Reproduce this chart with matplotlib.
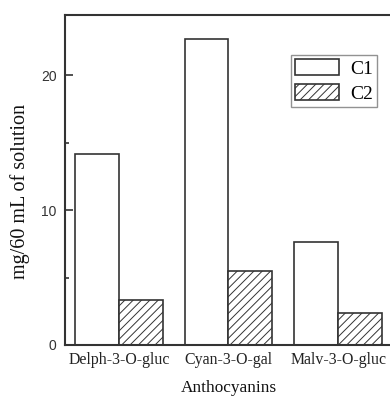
import matplotlib
matplotlib.use("Agg")
import matplotlib.pyplot as plt
import numpy as np

categories = ["Delph-3-O-gluc", "Cyan-3-O-gal", "Malv-3-O-gluc"]
c1 = [14.15, 22.7, 7.65]
c2 = [3.35, 5.45, 2.35]
series_labels = ["C1", "C2"]
yticks = [0, 10, 20]

plt.rcParams['hatch.linewidth'] = 0.7
plt.rcParams['hatch.color'] = '#444444'

fig = plt.figure(figsize=(3.9, 4.01), dpi=100)
ax = fig.add_axes([65/390, 56/401, 327/390, 330/401])

x = np.arange(len(categories))
w = 0.4
ec = '#333333'
ax.bar(x - w/2, c1, w, facecolor='white', edgecolor=ec, linewidth=1.2, label=series_labels[0])
ax.bar(x + w/2, c2, w, facecolor='white', edgecolor=ec, linewidth=1.2, hatch='////', label=series_labels[1])

ax.set_xlim(-0.49, 2.49)
ax.set_ylim(0, 24.45)
ax.set_yticks(yticks)
ax.set_yticks([5, 15], minor=True)
ax.set_xticks(x)
ax.set_xticklabels(categories, family='Liberation Serif', fontsize=11.4, color='#222222')
ax.tick_params(axis='y', direction='in', length=6, width=1.2, color=ec, labelsize=10, pad=6)
ax.tick_params(axis='y', which='minor', direction='in', length=3, width=1.2, color=ec)
ax.tick_params(axis='x', length=0, pad=5)
for lab in ax.get_yticklabels():
    lab.set_family('Liberation Sans')
    lab.set_color('#333333')
for s in ax.spines.values():
    s.set_linewidth(1.5)
    s.set_color(ec)
ax.spines['right'].set_visible(False)

ax.set_ylabel("mg/60 mL of solution", family='Liberation Serif', fontsize=14.5, color='#111111')
ax.yaxis.set_label_coords(-0.107, 0.464)
ax.set_xlabel("Anthocyanins", family='Liberation Serif', fontsize=12.4, labelpad=9, color='#111111')

leg = ax.legend(loc='upper right',
                prop={'family': 'Liberation Serif', 'size': 14}, fancybox=False,
                frameon=True, edgecolor='#777777', handlelength=2.25, handleheight=0.88,
                borderpad=0.2, labelspacing=0.35, handletextpad=0.6, borderaxespad=0)
leg.get_frame().set_linewidth(1.0)
leg.set_bbox_to_anchor((377/390, 1 - 55/401), transform=fig.transFigure)

fig.savefig("out.png", dpi=100)
